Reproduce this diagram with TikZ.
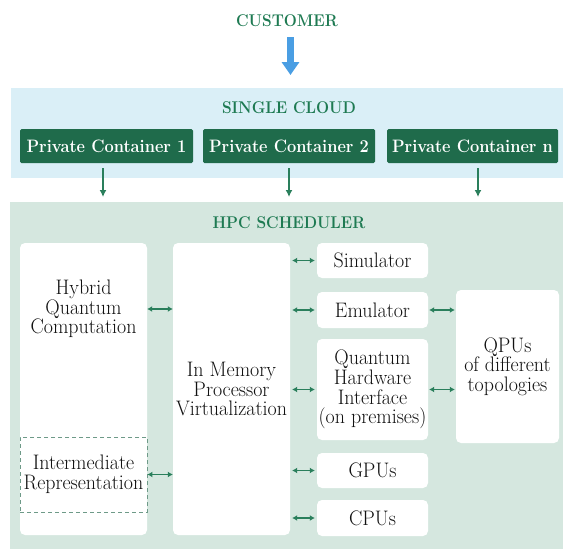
\documentclass[tikz,border=0pt]{standalone}
\usepackage{fontspec}
\setmainfont{Latin Modern Roman}[FakeStretch=0.91]
\newfontfamily\bodyfam{Latin Modern Roman}[FakeStretch=0.95]
\usetikzlibrary{arrows.meta}
\definecolor{hgreen}{HTML}{1E7A52}
\definecolor{cgreen}{HTML}{1F6B4B}
\definecolor{agreen}{HTML}{2A7F5C}
\definecolor{cloudblue}{HTML}{DAEFF7}
\definecolor{sage}{HTML}{D5E7DF}
\definecolor{dashc}{HTML}{6E9A88}
\definecolor{custblue}{HTML}{4A9EE3}
\definecolor{bodytext}{HTML}{111111}
\newcommand\diagbody{\bodyfam\fontsize{21}{19.6}\selectfont}
\newcommand\diaghead{\fontsize{17}{18}\selectfont\bfseries}
\newcommand\diagcont{\fontsize{18}{18}\selectfont\bfseries}
\begin{document}
\begin{tikzpicture}[x=1pt,y=-1pt,
  heading/.style={text=hgreen, font=\diaghead, inner sep=0},
  band/.style={anchor=north west, inner sep=0, outer sep=0},
  container/.style={fill=cgreen, text=white, font=\diagcont, minimum height=34pt, rounded corners=1.5pt, inner sep=0},
  whitebox/.style={fill=white, rounded corners=5pt, inner sep=0, align=center, font=\diagbody, text=bodytext},
  body/.style={align=center, font=\diagbody, text=bodytext, inner sep=0},
  biarrow/.style={agreen, line width=1.6pt, {Latex[length=5pt,width=6pt]}-{Latex[length=5pt,width=6pt]}},
  downarrow/.style={agreen, line width=1.5pt, -{Latex[length=7pt,width=7pt]}},
  custarrow/.style={custblue, line width=7pt, -{Triangle[length=13pt,width=17pt]}}
]
\useasboundingbox (0,0) rectangle (563,549);
% bands
\node[band, fill=cloudblue, minimum width=552pt, minimum height=90pt] (cloud) at (11,88) {};
\node[band, fill=sage, minimum width=553pt, minimum height=347pt] (hpc) at (10,202) {};
% customer
\node[heading] (cust) at (287,21) {CUSTOMER};
\coordinate (custend) at (290.5,75);
\draw[custarrow, shorten <=10pt] (cust.south -| custend) -- (custend);
% single cloud
\node[heading] (sc) at (289,108) {SINGLE CLOUD};
\node[container, minimum width=173pt] (c1) at (106.5,146) {Private Container 1};
\node[container, minimum width=172pt] (c2) at (289,146) {Private Container 2};
\node[container, minimum width=171pt] (c3) at (472.5,146) {Private Container n};
\coordinate (d1) at (103,197);
\coordinate (d2) at (289,197);
\coordinate (d3) at (478,197);
\draw[downarrow, shorten <=5pt] (c1.south -| d1) -- (d1);
\draw[downarrow, shorten <=5pt] (c2.south -| d2) -- (d2);
\draw[downarrow, shorten <=5pt] (c3.south -| d3) -- (d3);
% HPC scheduler
\node[heading] (hs) at (289,223) {HPC SCHEDULER};
\node[whitebox, minimum width=127pt, minimum height=292pt] (lb) at (83.5,389) {};
\node[body] (hqc) at (83.5,309) {Hybrid\\Quantum\\Computation};
\node[body, draw=dashc, dashed, dash pattern=on 4pt off 3pt, line width=0.9pt, minimum width=127pt, minimum height=75pt] (ir) at (83.5,474.5) {Intermediate\\Representation};
\node[whitebox, minimum width=117pt, minimum height=292pt] (mid) at (231.5,389) {In Memory\\Processor\\Virtualization};
\node[whitebox, minimum width=111pt, minimum height=35pt] (sim) at (372.5,260.5) {Simulator};
\node[whitebox, minimum width=111pt, minimum height=36pt] (emu) at (372.5,310) {Emulator};
\node[whitebox, minimum width=111pt, minimum height=101pt] (qhi) at (372.5,389.5) {Quantum\\Hardware\\Interface\\(on premises)};
\node[whitebox, minimum width=111pt, minimum height=35pt] (gpu) at (372.5,470.5) {GPUs};
\node[whitebox, minimum width=111pt, minimum height=36pt] (cpu) at (372.5,518) {CPUs};
\node[whitebox, minimum width=103pt, minimum height=153pt] (qpu) at (507.5,366.5) {QPUs\\of different\\topologies};
% arrows
\draw[biarrow] (lb.east |- hqc) -- (mid.west |- hqc);
\draw[biarrow] (ir.east) -- (mid.west |- ir.east);
\draw[biarrow, shorten <=2pt, shorten >=2pt] (mid.east |- sim) -- (sim.west);
\draw[biarrow, shorten <=2pt, shorten >=2pt] (mid.east |- emu) -- (emu.west);
\draw[biarrow, shorten <=2pt, shorten >=2pt] (mid.east |- qhi) -- (qhi.west);
\draw[biarrow, shorten <=2pt, shorten >=2pt] (mid.east |- gpu) -- (gpu.west);
\draw[biarrow, shorten <=2pt, shorten >=2pt] (mid.east |- cpu) -- (cpu.west);
\draw[biarrow, shorten <=1pt, shorten >=1pt] (emu.east) -- (qpu.west |- emu.east);
\draw[biarrow, shorten <=1pt, shorten >=1pt] (qhi.east) -- (qpu.west |- qhi.east);
\end{tikzpicture}
\end{document}
